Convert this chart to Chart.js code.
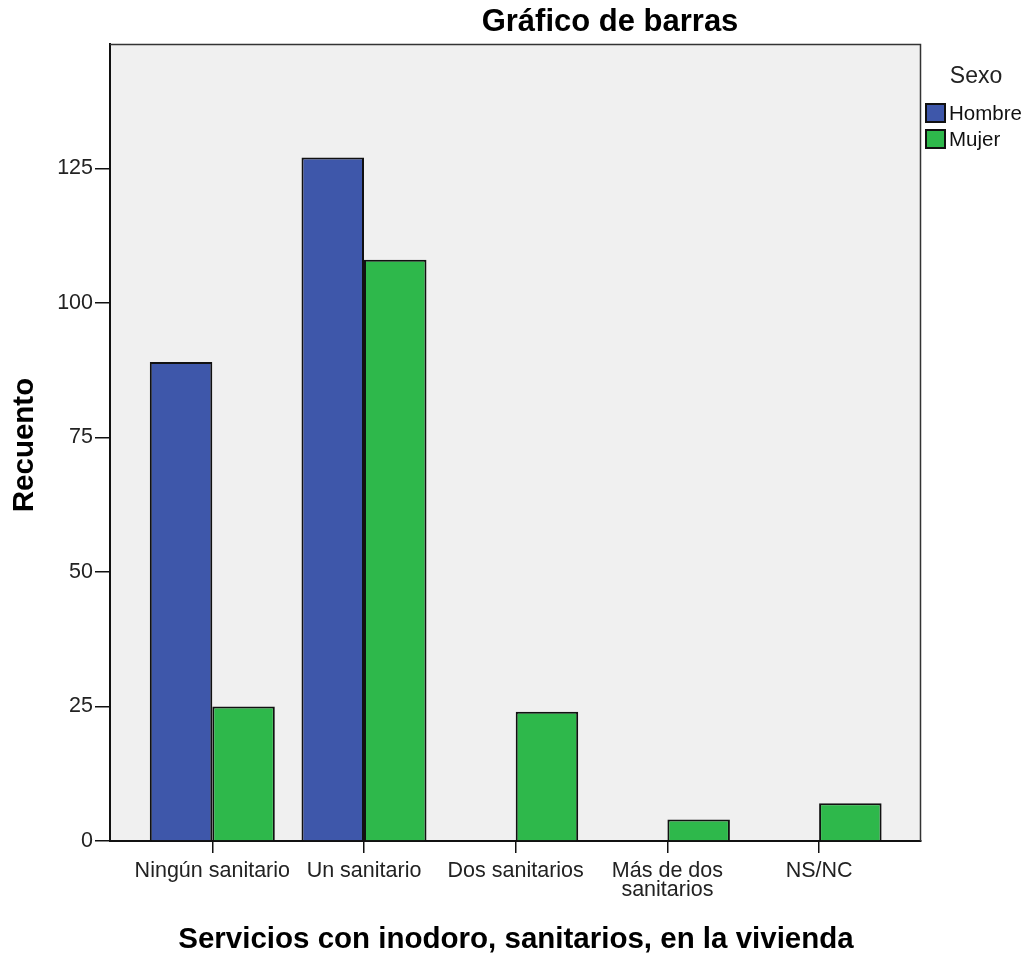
<!DOCTYPE html>
<html>
<head>
<meta charset="utf-8">
<script src="https://cdn.jsdelivr.net/npm/chart.js@4/dist/chart.umd.min.js"></script>
<style>
html,body{margin:0;padding:0;background:#fff;}
#wrap{width:1028px;height:955px;}
</style>
</head>
<body>
<div id="wrap"><canvas id="c" width="1028" height="955"></canvas></div>
<script>
const categories = ['Ningún sanitario', 'Un sanitario', 'Dos sanitarios', ['Más de dos', 'sanitarios'], 'NS/NC'];
const hombre = [89, 127, 0, 0, 0];
const mujer = [25, 108, 24, 4, 7];
const yTicks = [0, 25, 50, 75, 100, 125];
const seriesNames = ['Hombre', 'Mujer'];
const legendTitle = 'Sexo';
const chartTitle = 'Gráfico de barras';
const xTitle = 'Servicios con inodoro, sanitarios, en la vivienda';
const yTitle = 'Recuento';

const FONT = "'Liberation Sans', Arial, sans-serif";
const colors = ['#3e57aa', '#2eb84b'];

const decor = {
  id: 'decor',
  beforeDraw(chart) {
    const {ctx, chartArea: a} = chart;
    ctx.save();
    ctx.fillStyle = '#f0f0f0';
    ctx.fillRect(a.left, a.top, a.right - a.left, a.bottom - a.top);
    ctx.restore();
  },
  afterDatasetsDraw(chart) {
    const {ctx, chartArea: a} = chart;
    ctx.save();
    ctx.strokeStyle = '#333';
    ctx.lineWidth = 1.5;
    ctx.beginPath();
    ctx.moveTo(a.left, a.top + 0.5);
    ctx.lineTo(a.right - 0.5, a.top + 0.5);
    ctx.lineTo(a.right - 0.5, a.bottom);
    ctx.stroke();
    ctx.restore();
  },
  afterDraw(chart) {
    const {ctx} = chart;
    ctx.save();
    ctx.fillStyle = '#000';
    ctx.textAlign = 'center';
    ctx.textBaseline = 'middle';
    ctx.font = 'bold 31px ' + FONT;
    ctx.fillText(chartTitle, 610, 22);
    ctx.font = 'bold 29.5px ' + FONT;
    ctx.fillText(xTitle, 516, 940);
    ctx.save();
    ctx.translate(25, 445);
    ctx.rotate(-Math.PI / 2);
    ctx.font = 'bold 29.5px ' + FONT;
    ctx.fillText(yTitle, 0, 0);
    ctx.restore();
    // legend
    ctx.fillStyle = '#222';
    ctx.font = '23px ' + FONT;
    ctx.fillText(legendTitle, 976, 77);
    ctx.textAlign = 'left';
    ctx.font = '20.5px ' + FONT;
    const tops = [103, 129];
    seriesNames.forEach((n, i) => {
      ctx.fillStyle = colors[i];
      ctx.fillRect(925, tops[i], 21, 20);
      ctx.strokeStyle = '#111';
      ctx.lineWidth = 2;
      ctx.strokeRect(926, tops[i] + 1, 19, 18);
      ctx.fillStyle = '#111';
      ctx.fillText(n, 949, tops[i] + 11);
    });
    ctx.restore();
  }
};

new Chart(document.getElementById('c'), {
  type: 'bar',
  data: {
    labels: categories,
    datasets: [
      {label: seriesNames[0], data: hombre, backgroundColor: colors[0], borderColor: '#111', borderWidth: 2},
      {label: seriesNames[1], data: mujer, backgroundColor: colors[1], borderColor: '#111', borderWidth: 2}
    ]
  },
  options: {
    responsive: false,
    animation: false,
    events: [],
    layout: {padding: {left: 0, top: 44, right: 107, bottom: 0}},
    datasets: {bar: {categoryPercentage: 0.824, barPercentage: 1.0}},
    plugins: {legend: {display: false}, title: {display: false}, tooltip: {enabled: false}},
    scales: {
      x: {
        type: 'category',
        offset: true,
        afterFit(scale) { scale.height = 114; },
        afterBuildTicks(scale) {
          scale._valueRange = 5.3461;
          scale._startValue = -0.6744;
        },
        grid: {display: true, drawOnChartArea: false, drawTicks: true, tickLength: 12, color: '#111', lineWidth: 1.5, offset: false},
        border: {display: true, color: '#111', width: 2},
        ticks: {
          autoSkip: false, maxRotation: 0, minRotation: 0, padding: 8,
          color: '#222', font: {family: FONT, size: 21.5, lineHeight: 0.9}
        }
      },
      y: {
        min: 0, max: 148.1,
        afterFit(scale) { scale.width = 110; },
        afterBuildTicks(scale) { scale.ticks = yTicks.map(v => ({value: v})); },
        grid: {display: true, drawOnChartArea: false, drawTicks: true, tickLength: 15, color: '#111', lineWidth: 1.5},
        border: {display: true, color: '#111', width: 2},
        ticks: {padding: 2, color: '#222', font: {family: FONT, size: 21.5}}
      }
    }
  },
  plugins: [decor]
});
</script>
</body>
</html>
